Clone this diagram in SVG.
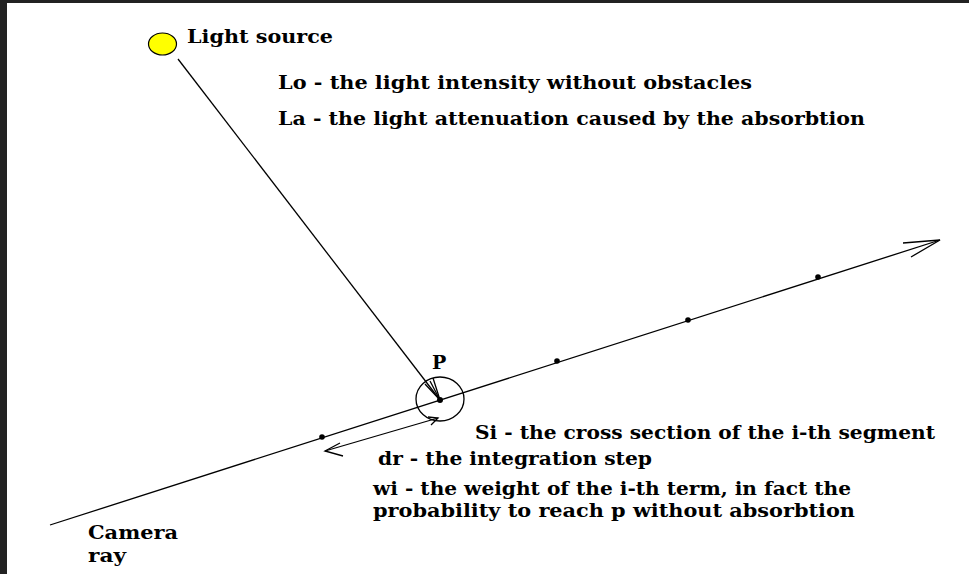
<svg xmlns="http://www.w3.org/2000/svg" width="969" height="574" viewBox="0 0 969 574">
<style>
.t{font-family:"DejaVu Serif","Liberation Serif",serif;font-weight:bold;font-size:19px;fill:#000}
.ln{stroke:#000;stroke-width:1.3;fill:none}
.dot{fill:#000}
</style>
<rect x="0" y="0" width="969" height="574" fill="#fff"/>
<rect x="0" y="0" width="969" height="3" fill="#222"/>
<rect x="0" y="0" width="7" height="574" fill="#222"/>
<g id="light-source">
<ellipse cx="162.5" cy="44" rx="14" ry="11" fill="#ffff00" stroke="#000" stroke-width="1.2"/>
<text class="t" x="187" y="43" textLength="146" lengthAdjust="spacingAndGlyphs">Light source</text>
</g>
<g id="connectors">
<line class="ln" x1="178" y1="59" x2="440" y2="400"/>
<polyline class="ln" points="425,384 440,400 433,378"/>
<line class="ln" x1="430" y1="381" x2="440" y2="400"/>
<line class="ln" x1="50" y1="525" x2="940" y2="240"/>
<polyline class="ln" points="903,243 940,240 911,257"/>
<line class="ln" x1="325" y1="451" x2="438" y2="418"/>
<polyline class="ln" points="343,456 325,451 340,443"/>
<polyline class="ln" points="428,417 438,418 431,425"/>
</g>
<g id="point-p">
<ellipse class="ln" cx="440" cy="399" rx="24" ry="22"/>
<circle class="dot" cx="440" cy="400" r="3"/>
<text class="t" x="432" y="369" font-size="16">P</text>
</g>
<g id="samples">
<circle class="dot" cx="322" cy="437" r="2.8"/>
<circle class="dot" cx="557" cy="361" r="2.8"/>
<circle class="dot" cx="688" cy="320" r="2.8"/>
<circle class="dot" cx="818" cy="277" r="2.8"/>
</g>
<g id="labels">
<text class="t" x="278" y="89" textLength="474" lengthAdjust="spacingAndGlyphs">Lo - the light intensity without obstacles</text>
<text class="t" x="278" y="125" textLength="587" lengthAdjust="spacingAndGlyphs">La - the light attenuation caused by the absorbtion</text>
<text class="t" x="475" y="439" textLength="460" lengthAdjust="spacingAndGlyphs">Si - the cross section of the i-th segment</text>
<text class="t" x="378" y="465" textLength="274" lengthAdjust="spacingAndGlyphs">dr - the integration step</text>
<text class="t" x="373" y="495" textLength="478" lengthAdjust="spacingAndGlyphs">wi - the weight of the i-th term, in fact the</text>
<text class="t" x="373" y="517" textLength="482" lengthAdjust="spacingAndGlyphs">probability to reach p without absorbtion</text>
<text class="t" x="88" y="539" textLength="90" lengthAdjust="spacingAndGlyphs">Camera</text>
<text class="t" x="88" y="562" textLength="38" lengthAdjust="spacingAndGlyphs">ray</text>
</g>
</svg>
